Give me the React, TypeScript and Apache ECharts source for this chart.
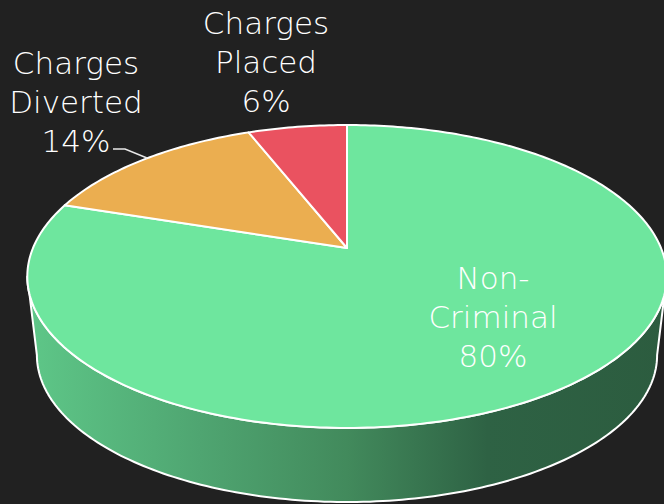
import React, { useEffect, useRef } from 'react';
import * as echarts from 'echarts';

// ---- data ----
const categories = ['Non-Criminal', 'Charges Diverted', 'Charges Placed'];
const values = [80, 14, 6];
const labelTexts = ['Non-\nCriminal\n80%', 'Charges\nDiverted\n14%', 'Charges\nPlaced\n6%'];
const sliceColors = ['#6EE69E', '#EBAE50', '#EA5260'];

// ---- layout (not data) ----
const W = 664;
const H = 504;
const CX = 347;
const CY_TOP = 248;
const CY_BOT = 327.5;
const RX = 314;
const RY = 146.1;
const K = 0.188;
const BOT_SCALE = 0.97;
const labelPos: number[][] = [[493, 317], [76, 102], [266, 62]];
const leader: number[][] = [[113, 149], [125, 149], [147, 158]];
const FONT = '"DejaVu Sans", sans-serif';

function project(phi: number, r: number, level: number): number[] {
  const u = r * Math.sin(phi);
  const v = r * Math.cos(phi);
  const d = 1 + K * v;
  const s = level ? BOT_SCALE : 1;
  return [CX + (s * RX * u) / d, (level ? CY_BOT : CY_TOP) - (s * RY * v) / d];
}

function arcPoints(a0: number, a1: number, level: number): number[][] {
  const pts: number[][] = [];
  const n = Math.max(2, Math.ceil(((a1 - a0) * 180) / Math.PI));
  for (let j = 0; j <= n; j++) {
    pts.push(project(a0 + ((a1 - a0) * j) / n, 1, level));
  }
  return pts;
}

const total = values.reduce((a, b) => a + b, 0);
const starts: number[] = [];
{
  let acc = 0;
  for (const v of values) {
    starts.push((acc / total) * Math.PI * 2);
    acc += v;
  }
}

const SIL_L = Math.acos(-K);
const SIL_R = Math.PI * 2 - Math.acos(-K);

export default function App() {
  const ref = useRef<HTMLDivElement>(null);
  useEffect(() => {
    if (!ref.current) return;
    const chart = echarts.init(ref.current, null, { renderer: 'svg' });
    const sideGradient = new echarts.graphic.LinearGradient(0, 0, 1, 0, [
      { offset: 0, color: '#5EC788' },
      { offset: 0.27, color: '#4FA571' },
      { offset: 0.5, color: '#428A5C' },
      { offset: 0.72, color: '#2E6244' },
      { offset: 1, color: '#2C5C3F' },
    ]);
    chart.setOption({
      animation: false,
      backgroundColor: '#212121',
      series: [
        {
          type: 'custom',
          coordinateSystem: 'none',
          data: values.map((v, i) => ({ name: categories[i], value: [v] })),
          renderItem: (params: any) => {
            const i = params.dataIndex;
            const a0 = starts[i];
            const a1 = a0 + (values[i] / total) * Math.PI * 2;
            const children: any[] = [];
            const s0 = Math.max(a0, SIL_L);
            const s1 = Math.min(a1, SIL_R);
            if (s1 > s0) {
              const top = arcPoints(s0, s1, 0);
              const bot = arcPoints(s0, s1, 1).reverse();
              children.push({
                type: 'polygon',
                z2: 1,
                shape: { points: top.concat(bot) },
                style: { fill: sideGradient, stroke: '#ffffff', lineWidth: 2, lineJoin: 'round' },
              });
            }
            const c = project(0, 0, 0);
            children.push({
              type: 'polygon',
              z2: 2,
              shape: { points: [c].concat(arcPoints(a0, a1, 0)) },
              style: { fill: sliceColors[i], stroke: '#ffffff', lineWidth: 2, lineJoin: 'round' },
            });
            children.push({
              type: 'text',
              z2: 5,
              x: labelPos[i][0],
              y: labelPos[i][1],
              style: {
                text: labelTexts[i],
                fill: '#ffffff',
                fontSize: 31,
                fontFamily: FONT,
                fontWeight: 200,
                align: 'center',
                verticalAlign: 'middle',
                lineHeight: 39,
              },
            });
            if (i === 1) {
              children.push({
                type: 'polyline',
                z2: 5,
                shape: { points: leader },
                style: { stroke: '#e8e8e8', lineWidth: 1.5, fill: null },
              });
            }
            return { type: 'group', children };
          },
        },
      ],
    });
    return () => chart.dispose();
  }, []);
  return (
    <div
      ref={ref}
      style={{ position: 'fixed', left: 0, top: 0, width: W, height: H }}
    />
  );
}
